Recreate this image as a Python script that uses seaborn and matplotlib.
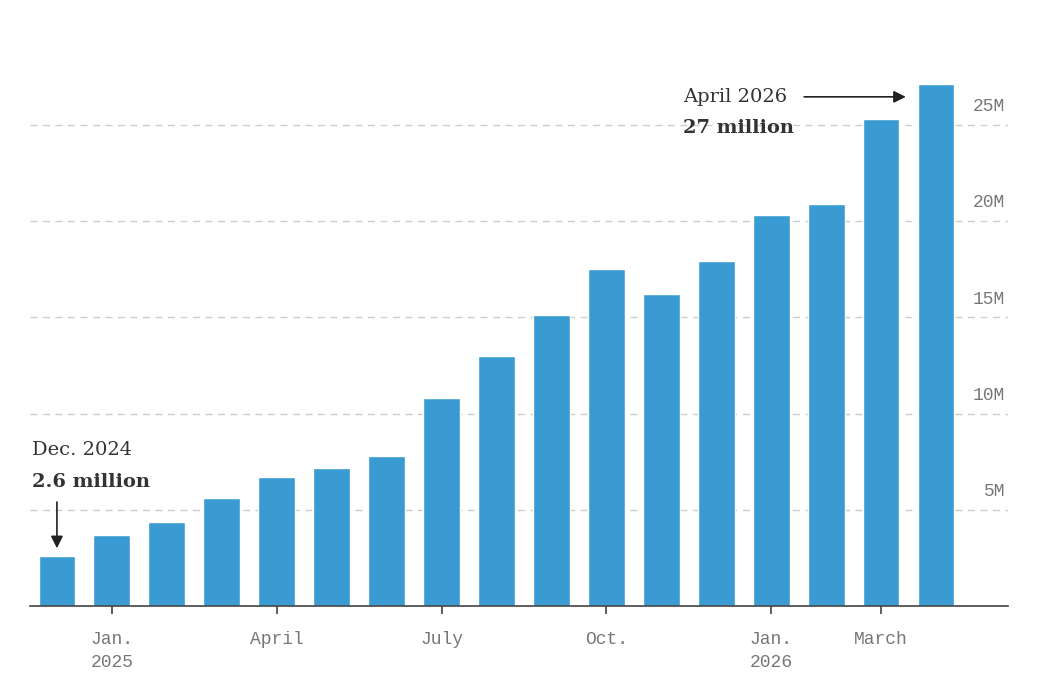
import matplotlib
matplotlib.use("Agg")
import matplotlib.pyplot as plt
import matplotlib.transforms as mtransforms
import seaborn as sns
import pandas as pd

months = ["Dec 2024", "Jan 2025", "Feb 2025", "Mar 2025", "Apr 2025", "May 2025",
          "Jun 2025", "Jul 2025", "Aug 2025", "Sep 2025", "Oct 2025", "Nov 2025",
          "Dec 2025", "Jan 2026", "Feb 2026", "Mar 2026", "Apr 2026"]
users_m = [2.6, 3.7, 4.35, 5.6, 6.7, 7.15, 7.8, 10.8, 13.0, 15.1, 17.5, 16.2,
           17.9, 20.3, 20.9, 25.3, 27.1]
tick_months = ["Jan 2025", "Apr 2025", "Jul 2025", "Oct 2025", "Jan 2026", "Mar 2026"]
tick_labels = ["Jan.\n2025", "April", "July", "Oct.", "Jan.\n2026", "March"]
y_ticks = [5, 10, 15, 20, 25]
y_tick_labels = ["5M", "10M", "15M", "20M", "25M"]

df = pd.DataFrame({"month": months, "users": users_m})

sns.set_theme(style="white")
MONO = ["Liberation Mono", "DejaVu Sans Mono"]
SERIF = ["DejaVu Serif"]

fig = plt.figure(figsize=(10.5, 6.8), dpi=100)
ax = fig.add_axes([30 / 1050, 74 / 680, 978 / 1050, (606 - 67) / 680])

sns.barplot(data=df, x="month", y="users", order=months, color="#3a9bd3",
            saturation=1, width=0.67, ax=ax, zorder=2)

ax.set_xlim(-0.49, len(months) - 1 + 1.31)
ax.set_ylim(0, 28)

for v in y_ticks:
    ax.axhline(v, color="#cccccc", lw=1, ls=(0, (5, 4)), zorder=1)

trans = mtransforms.blended_transform_factory(ax.transAxes, ax.transData)
for v, lab in zip(y_ticks, y_tick_labels):
    ax.annotate(lab, xy=(1, v), xycoords=trans, xytext=(-2, 7),
                textcoords="offset points", ha="right", va="bottom",
                fontsize=13, color="#777777", family=MONO)

ax.set_yticks([])
ax.set_xticks([months.index(m) for m in tick_months])
ax.set_xticklabels(tick_labels, family=MONO, fontsize=13, color="#777777",
                   linespacing=1.45)
ax.tick_params(axis="x", bottom=True, length=6, width=1.2, color="#444444", pad=12)
ax.set_xlabel("")
ax.set_ylabel("")

for s in ["top", "right", "left"]:
    ax.spines[s].set_visible(False)
ax.spines["bottom"].set_color("#444444")
ax.spines["bottom"].set_linewidth(1.2)

# Annotations
i0 = 0
ax.annotate("", xy=(i0, users_m[i0] + 0.4), xytext=(i0, users_m[i0] + 2.8),
            arrowprops=dict(arrowstyle="-|>", color="#222222", lw=1.2,
                            mutation_scale=18, shrinkA=0, shrinkB=0))
ax.text(i0 - 0.45, users_m[i0] + 5.5, "Dec. 2024", family=SERIF, fontsize=14,
        color="#333333", va="center", ha="left")
ax.text(i0 - 0.45, users_m[i0] + 3.85, "2.6 million", family=SERIF, fontsize=14,
        fontweight="bold", color="#333333", va="center", ha="left")

iN = len(months) - 1
ax.annotate("", xy=(iN - 0.55, users_m[iN] - 0.65), xytext=(iN - 2.4, users_m[iN] - 0.65),
            arrowprops=dict(arrowstyle="-|>", color="#222222", lw=1.2,
                            mutation_scale=18, shrinkA=0, shrinkB=0))
ax.text(iN - 4.6, users_m[iN] - 0.65, "April 2026", family=SERIF, fontsize=14,
        color="#333333", va="center", ha="left")
ax.text(iN - 4.6, users_m[iN] - 2.25, "27 million", family=SERIF, fontsize=14,
        fontweight="bold", color="#333333", va="center", ha="left")

fig.savefig("out.png", dpi=100, facecolor="white")
